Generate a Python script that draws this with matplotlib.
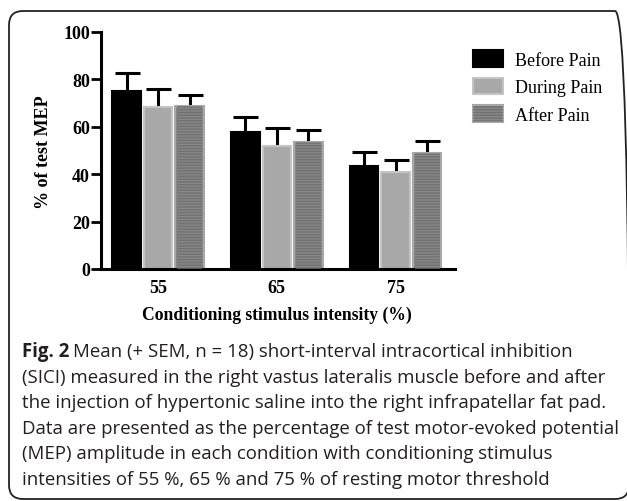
import matplotlib.pyplot as plt
import numpy as np
from matplotlib.patches import FancyBboxPatch, Patch
from matplotlib.transforms import IdentityTransform
from matplotlib.legend_handler import HandlerTuple

# Dados
intensidades = ['55', '65', '75']
condicoes = ['Before Pain', 'During Pain', 'After Pain']
media_antes = [75.2, 57.7, 43.6]
media_durante = [68.2, 52.0, 41.0]
media_depois = [68.6, 53.4, 48.9]
sem_antes = [7.5, 6.4, 5.6]
sem_durante = [7.7, 7.6, 4.9]
sem_depois = [4.9, 5.4, 5.2]

legenda = [
    "(SICI) measured in the right vastus lateralis muscle before and after",
    "the injection of hypertonic saline into the right infrapatellar fat pad.",
    "Data are presented as the percentage of test motor-evoked potential",
    "(MEP) amplitude in each condition with conditioning stimulus",
    "intensities of 55 %, 65 % and 75 % of resting motor threshold",
]

serif = ['Liberation Serif', 'DejaVu Serif']
sans = ['Open Sans', 'DejaVu Sans']

plt.rcParams['hatch.linewidth'] = 1.0

fig = plt.figure(figsize=(6.27, 5.02), dpi=100)

# moldura arredondada
caixa = FancyBboxPatch((9, 2), 620, 488, boxstyle="round,pad=0,rounding_size=14",
                       transform=IdentityTransform(), facecolor='none',
                       edgecolor='#222222', linewidth=1.3)
fig.patches.append(caixa)

ax = fig.add_axes([101/627, 1-270/502, (455-101)/627, (270-33)/502])

x = np.arange(len(intensidades))
largura = 0.24
passo = 0.265

estilos = [
    dict(color='black', edgecolor='black'),
    dict(color='#a8a8a8', edgecolor='#c4c4c4'),
    dict(color='#878787', edgecolor='#a8a8a8'),
]
medias = [media_antes, media_durante, media_depois]
sems = [sem_antes, sem_durante, sem_depois]

handles = []
for i, (m, s, est) in enumerate(zip(medias, sems, estilos)):
    pos = x + (i - 1) * passo
    ax.errorbar(pos, m, yerr=[np.zeros(len(m)), s], fmt='none', ecolor='black',
                elinewidth=2.2, capsize=0, zorder=1)
    ax.plot(pos, np.array(m) + np.array(s), linestyle='none', marker='_',
            markersize=18, markeredgewidth=2.2, color='black', zorder=1)
    ax.bar(pos, m, largura, color=est['color'], edgecolor=est['edgecolor'],
           linewidth=1.5, zorder=2)
    base = Patch(facecolor=est['color'], edgecolor=est['edgecolor'], linewidth=1.5)
    if i == 2:
        ax.bar(pos, m, largura * 0.88, color='none', edgecolor='#727272',
               hatch='------', linewidth=0, zorder=3)
        hach = Patch(facecolor='none', edgecolor='#727272', hatch='------', linewidth=0)
        handles.append((base, hach))
    else:
        handles.append(base)

ax.set_xlim(-0.48, 2.5)
ax.set_ylim(0, 100)
ax.set_yticks([0, 20, 40, 60, 80, 100])
ax.set_xticks(x)
ax.set_xticklabels(intensidades)
for sp in ['top', 'right']:
    ax.spines[sp].set_visible(False)
for sp in ['left', 'bottom']:
    ax.spines[sp].set_linewidth(2.2)
ax.tick_params(axis='y', length=7, width=2, pad=1)
ax.tick_params(axis='x', length=0, pad=7)
for lab in ax.get_xticklabels() + ax.get_yticklabels():
    lab.set_fontfamily(serif)
    lab.set_fontweight('bold')
    lab.set_fontsize(13)

fig.text(44/627, 1-152/502, '% of test MEP', rotation=90, ha='center', va='center',
         family=serif, weight='bold', fontsize=13)
fig.text(277/627, 1-315/502, 'Conditioning stimulus intensity (%)', ha='center',
         va='center', family=serif, weight='bold', fontsize=12.7)

fig.legend(handles, condicoes, loc='upper left', bbox_to_anchor=(473/627, 1-51/502),
           frameon=False, prop={'family': serif, 'size': 13},
           handlelength=1.65, handleheight=1.05, handletextpad=0.7, labelspacing=0.5,
           borderaxespad=0, borderpad=0,
           handler_map={tuple: HandlerTuple(ndivide=1, pad=0)})

# legenda da figura (caption)
cor_txt = '#231f20'
tam = 13.4
y0 = 352
t = fig.text(22/627, 1-y0/502, 'Fig. 2', ha='left', va='center', family=sans,
             weight='bold', fontsize=tam, color=cor_txt)
fig.canvas.draw()
bb = t.get_window_extent()
fig.text((bb.x1 + 4)/627, 1-y0/502, 'Mean (+ SEM, n = 18) short-interval intracortical inhibition',
         ha='left', va='center', family=sans, fontsize=tam, color=cor_txt)
for k, linha in enumerate(legenda):
    fig.text(22/627, 1-(y0 + (k + 1) * 25.6)/502, linha, ha='left', va='center',
             family=sans, fontsize=tam, color=cor_txt)

fig.savefig('out.png', dpi=100)
